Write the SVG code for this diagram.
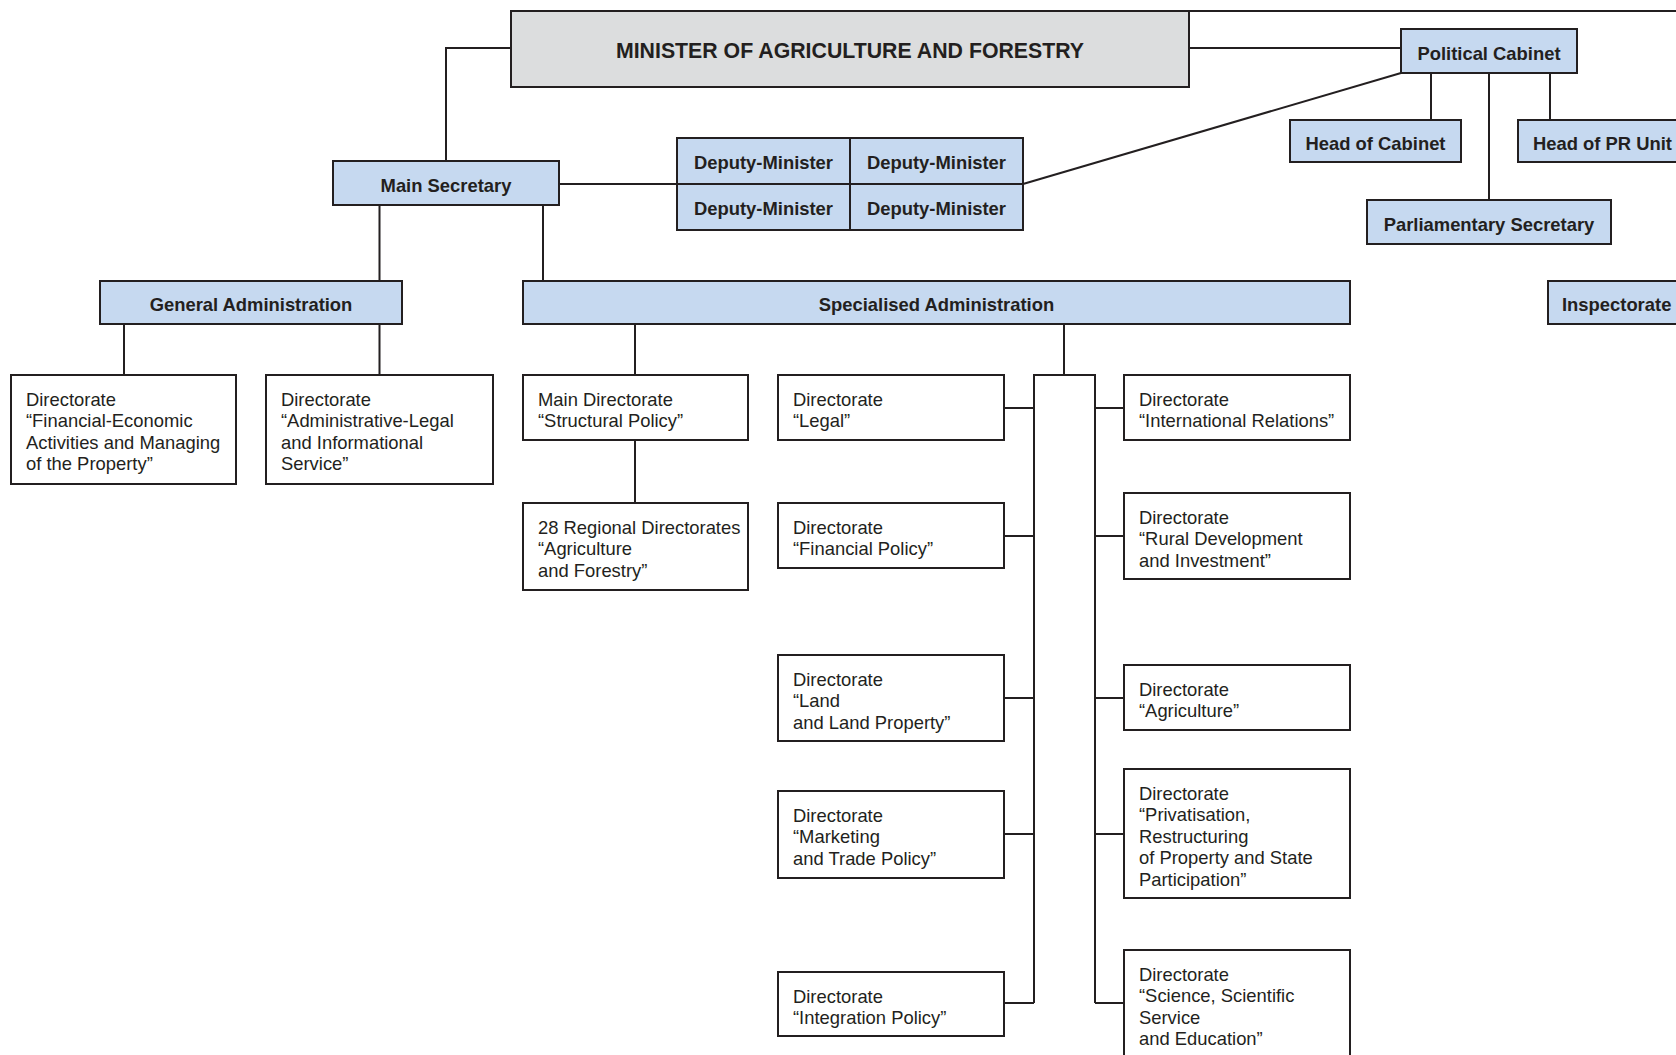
<svg xmlns="http://www.w3.org/2000/svg" width="1676" height="1055" viewBox="0 0 1676 1055">
<style>
.bg{fill:#ffffff}
.blue{fill:#c6d9f0;stroke:#231f20;stroke-width:2}
.gray{fill:#dcddde;stroke:#231f20;stroke-width:2}
.white{fill:#ffffff;stroke:#231f20;stroke-width:2}
.conn{fill:none;stroke:#231f20;stroke-width:2}
.b{font-family:"Liberation Sans",Arial,sans-serif;font-weight:bold;font-size:18.4px;fill:#231f20;text-anchor:middle}
.bl{font-family:"Liberation Sans",Arial,sans-serif;font-weight:bold;font-size:18.4px;fill:#231f20}
.big{font-family:"Liberation Sans",Arial,sans-serif;font-weight:bold;font-size:21.3px;fill:#231f20;text-anchor:middle}
.t{font-family:"Liberation Sans",Arial,sans-serif;font-size:18.4px;fill:#231f20}
</style>
<rect class="bg" x="0" y="0" width="1676" height="1055"/>
<g id="connectors">
<path class="conn" d="M511,48 H446 V161"/>
<path class="conn" d="M1189,48 H1401"/>
<path class="conn" d="M1189,11 H1680"/>
<path class="conn" d="M1023,184 L1401,73"/>
<path class="conn" d="M1431,73 V120 M1489,73 V200 M1550,73 V120"/>
<path class="conn" d="M559,184 H677"/>
<path class="conn" d="M379.5,205 V281 M543,205 V281"/>
<path class="conn" d="M124,324 V375 M379.5,324 V375"/>
<path class="conn" d="M635,324 V375 M635,440 V503"/>
<path class="conn" d="M1064,324 V375"/>
<path class="conn" d="M1034,1003 V375 H1095 V1003"/>
<path class="conn" d="M1004,408 H1034 M1004,536 H1034 M1004,698 H1034 M1004,834 H1034 M1004,1003 H1034"/>
<path class="conn" d="M1095,408 H1124 M1095,536 H1124 M1095,698 H1124 M1095,834 H1124 M1095,1003 H1124"/>
</g>
<g id="minister"><rect class="gray" x="511" y="11" width="678" height="76"/><text class="big" x="850" y="57.5">MINISTER OF AGRICULTURE AND FORESTRY</text></g>
<g id="political-cabinet"><rect class="blue" x="1401" y="29" width="176" height="44"/><text class="b" x="1489" y="59.5">Political Cabinet</text></g>
<g id="head-of-cabinet"><rect class="blue" x="1290" y="120" width="171" height="42"/><text class="b" x="1375.5" y="149.5">Head of Cabinet</text></g>
<g id="head-of-pr-unit"><rect class="blue" x="1518" y="120" width="172" height="42"/><text class="bl" x="1533" y="149.5">Head of PR Unit</text></g>
<g id="parliamentary-secretary"><rect class="blue" x="1367" y="200" width="244" height="44"/><text class="b" x="1489" y="230.5">Parliamentary Secretary</text></g>
<g id="inspectorate"><rect class="blue" x="1548" y="281" width="142" height="43"/><text class="bl" x="1562" y="311">Inspectorate</text></g>
<g id="main-secretary"><rect class="blue" x="333" y="161" width="226" height="44"/><text class="b" x="446" y="191.5">Main Secretary</text></g>
<g id="deputy-ministers">
<rect class="blue" x="677" y="138" width="346" height="92"/>
<path class="conn" d="M850,138 V230 M677,184 H1023"/>
<text class="b" x="763.5" y="169">Deputy-Minister</text>
<text class="b" x="936.5" y="169">Deputy-Minister</text>
<text class="b" x="763.5" y="214.5">Deputy-Minister</text>
<text class="b" x="936.5" y="214.5">Deputy-Minister</text>
</g>
<g id="general-administration"><rect class="blue" x="100" y="281" width="302" height="43"/><text class="b" x="251" y="311">General Administration</text></g>
<g id="specialised-administration"><rect class="blue" x="523" y="281" width="827" height="43"/><text class="b" x="936.5" y="311">Specialised Administration</text></g>
<g id="dir-financial-economic"><rect class="white" x="11" y="375" width="225" height="109"/>
<text class="t"><tspan x="26" y="406">Directorate</tspan><tspan x="26" y="427.4">“Financial-Economic</tspan><tspan x="26" y="448.8">Activities and Managing</tspan><tspan x="26" y="470.2">of the Property”</tspan></text></g>
<g id="dir-administrative-legal"><rect class="white" x="266" y="375" width="227" height="109"/>
<text class="t"><tspan x="281" y="406">Directorate</tspan><tspan x="281" y="427.4">“Administrative-Legal</tspan><tspan x="281" y="448.8">and Informational</tspan><tspan x="281" y="470.2">Service”</tspan></text></g>
<g id="main-dir-structural"><rect class="white" x="523" y="375" width="225" height="65"/>
<text class="t"><tspan x="538" y="406">Main Directorate</tspan><tspan x="538" y="427.4">“Structural Policy”</tspan></text></g>
<g id="regional-directorates"><rect class="white" x="523" y="503" width="225" height="87"/>
<text class="t"><tspan x="538" y="534">28 Regional Directorates</tspan><tspan x="538" y="555.4">“Agriculture</tspan><tspan x="538" y="576.8">and Forestry”</tspan></text></g>
<g id="dir-legal"><rect class="white" x="778" y="375" width="226" height="65"/>
<text class="t"><tspan x="793" y="406">Directorate</tspan><tspan x="793" y="427.4">“Legal”</tspan></text></g>
<g id="dir-financial-policy"><rect class="white" x="778" y="503" width="226" height="65"/>
<text class="t"><tspan x="793" y="534">Directorate</tspan><tspan x="793" y="555.4">“Financial Policy”</tspan></text></g>
<g id="dir-land"><rect class="white" x="778" y="655" width="226" height="86"/>
<text class="t"><tspan x="793" y="686">Directorate</tspan><tspan x="793" y="707.4">“Land</tspan><tspan x="793" y="728.8">and Land Property”</tspan></text></g>
<g id="dir-marketing"><rect class="white" x="778" y="791" width="226" height="87"/>
<text class="t"><tspan x="793" y="822">Directorate</tspan><tspan x="793" y="843.4">“Marketing</tspan><tspan x="793" y="864.8">and Trade Policy”</tspan></text></g>
<g id="dir-integration"><rect class="white" x="778" y="972" width="226" height="64"/>
<text class="t"><tspan x="793" y="1003">Directorate</tspan><tspan x="793" y="1024.4">“Integration Policy”</tspan></text></g>
<g id="dir-international"><rect class="white" x="1124" y="375" width="226" height="65"/>
<text class="t"><tspan x="1139" y="406">Directorate</tspan><tspan x="1139" y="427.4">“International Relations”</tspan></text></g>
<g id="dir-rural"><rect class="white" x="1124" y="493" width="226" height="86"/>
<text class="t"><tspan x="1139" y="524">Directorate</tspan><tspan x="1139" y="545.4">“Rural Development</tspan><tspan x="1139" y="566.8">and Investment”</tspan></text></g>
<g id="dir-agriculture"><rect class="white" x="1124" y="665" width="226" height="65"/>
<text class="t"><tspan x="1139" y="696">Directorate</tspan><tspan x="1139" y="717.4">“Agriculture”</tspan></text></g>
<g id="dir-privatisation"><rect class="white" x="1124" y="769" width="226" height="129"/>
<text class="t"><tspan x="1139" y="800">Directorate</tspan><tspan x="1139" y="821.4">“Privatisation,</tspan><tspan x="1139" y="842.8">Restructuring</tspan><tspan x="1139" y="864.2">of Property and State</tspan><tspan x="1139" y="885.6">Participation”</tspan></text></g>
<g id="dir-science"><rect class="white" x="1124" y="950" width="226" height="120"/>
<text class="t"><tspan x="1139" y="981">Directorate</tspan><tspan x="1139" y="1002.4">“Science, Scientific</tspan><tspan x="1139" y="1023.8">Service</tspan><tspan x="1139" y="1045.2">and Education”</tspan></text></g>
</svg>
